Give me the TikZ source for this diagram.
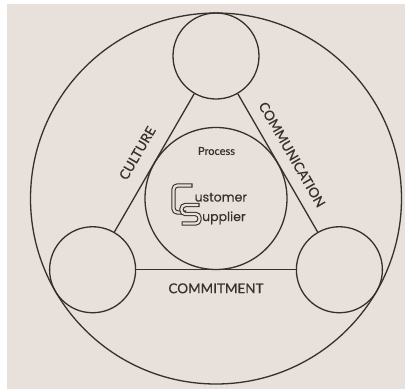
\documentclass[tikz,border=0pt]{standalone}
\usepackage{fontspec}
\setmainfont{Lato}
\newfontfamily\labelfont[FakeBold=0.6]{Lato}
\newfontfamily\logofont[FakeBold=0.4]{Poppins}
\usepackage{tikz}
\usetikzlibrary{positioning}
\definecolor{paper}{HTML}{E8E0DA}
\definecolor{ink}{HTML}{35322A}
\newcommand{\logoletter}[1]{%
  \draw[ink, line width=4.4pt, rounded corners=4pt] #1;
  \draw[paper, line width=2.2pt, rounded corners=4pt, shorten <=1.1pt, shorten >=1.1pt] #1;}

\begin{document}
\begin{tikzpicture}[x=1pt, y=-1pt, line width=1.3pt, color=ink,
    ring/.style={circle, draw=ink, inner sep=0pt, minimum size=#1},
    sidelabel/.style={font=\labelfont\fontsize{13.5}{13.5}\selectfont, inner sep=0pt}]
  \useasboundingbox (0,0) rectangle (408,389);
  \fill[paper] (7,4) rectangle (405,389);

  \node[ring=371pt] (outer) at (216,198.5) {};
  \node[ring=142pt] (inner) at (216,198.5) {};
  \node[ring=86pt] (topc) at (216,56) {};
  \node[ring=86pt] (leftc) at (92.6,269.75) {};
  \node[ring=86pt] (rightc) at (339.4,269.75) {};

  \draw (leftc) -- node[sidelabel, sloped, above=14pt] {CULTURE} (topc);
  \draw (topc) -- node[sidelabel, sloped, above=11pt] {COMMUNICATION} (rightc);
  \draw (leftc) -- node[sidelabel, below=13pt] {COMMITMENT} (rightc);

  \node[font=\labelfont\fontsize{11}{11}\selectfont, inner sep=0pt] (proc) at (216.5,151) {Process};

  % C and S of the logo
  \logoletter{(192.5,185.5) -- (173.5,185.5) -- (173.5,212.5) -- (186,212.5)}
  \logoletter{(199.5,205) -- (181.5,205) -- (181.5,214) -- (199.5,214) -- (199.5,223.5) -- (181.5,223.5)}
  \node[anchor=base west, inner sep=0pt, font=\logofont\fontsize{12.5}{12.5}\selectfont] (cust) at (194,201.5) {ustomer};
  \node[anchor=base west, inner sep=0pt, font=\logofont\fontsize{12.5}{12.5}\selectfont] (supp) at (201.5,221) {upplier};
\end{tikzpicture}
\end{document}
